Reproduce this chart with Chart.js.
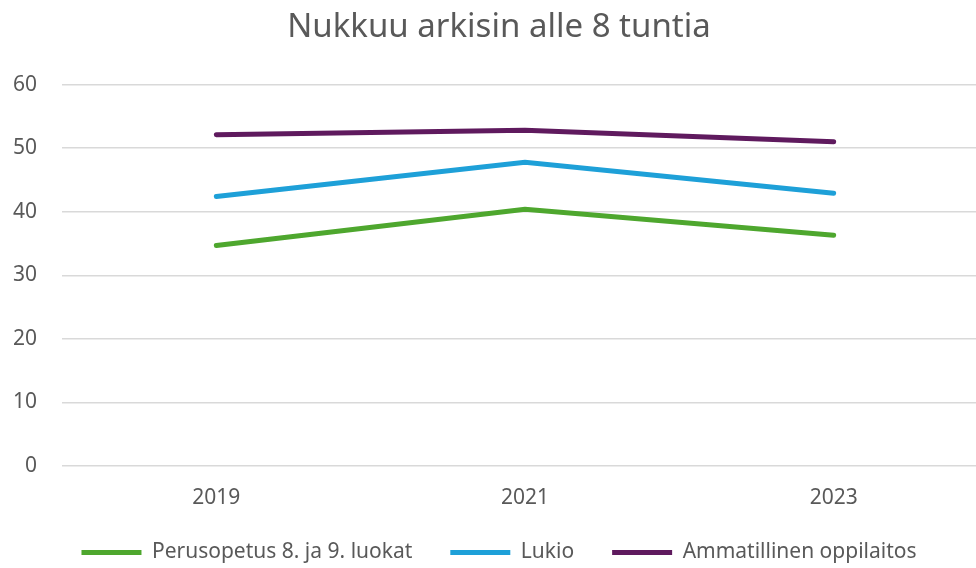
<!DOCTYPE html>
<html>
<head>
<meta charset="utf-8">
<script src="https://cdn.jsdelivr.net/npm/chart.js@4"></script>
<style>
  html, body { margin: 0; padding: 0; background: #fff; overflow: hidden; }
  #wrap { width: 1012px; height: 568px; }
</style>
</head>
<body>
<div id="wrap"><canvas id="chart" width="1012" height="568"></canvas></div>
<script>
const years = ["2019", "2021", "2023"];
const perusopetus = [34.7, 40.4, 36.3];
const lukio = [42.4, 47.8, 42.9];
const ammatillinen = [52.1, 52.8, 51.0];
const yTicks = [0, 10, 20, 30, 40, 50, 60];

const font = "'Noto Sans', 'Open Sans', sans-serif";
const textColor = "#595959";

new Chart(document.getElementById("chart"), {
  type: "line",
  data: {
    labels: years,
    datasets: [
      { label: "Perusopetus 8. ja 9. luokat", data: perusopetus, borderColor: "#4ea72e", backgroundColor: "#4ea72e" },
      { label: "Lukio", data: lukio, borderColor: "#1ea0d8", backgroundColor: "#1ea0d8" },
      { label: "Ammatillinen oppilaitos", data: ammatillinen, borderColor: "#5f1a5e", backgroundColor: "#5f1a5e" }
    ]
  },
  options: {
    responsive: false,
    animation: false,
    layout: { padding: { left: 10, right: 24, top: 0, bottom: -5 } },
    elements: {
      line: { borderWidth: 5, tension: 0, borderCapStyle: "round" },
      point: { radius: 0, hoverRadius: 0, borderWidth: 5 }
    },
    plugins: {
      title: {
        display: true,
        text: "Nukkuu arkisin alle 8 tuntia",
        color: textColor,
        font: { family: font, size: 33, weight: "normal" },
        padding: { top: 8, bottom: 37 }
      },
      legend: {
        position: "bottom",
        labels: {
          color: textColor,
          font: { family: font, size: 21 },
          usePointStyle: true,
          pointStyle: "line",
          pointStyleWidth: 60,
          padding: 38
        }
      },
      tooltip: { enabled: false }
    },
    scales: {
      x: {
        offset: true,
        grid: { display: false, drawTicks: false },
        border: { display: false },
        ticks: { color: textColor, font: { family: font, size: 21 }, padding: 19 },
        afterFit: s => { s.height = 38; }
      },
      y: {
        min: 0,
        max: 60,
        afterBuildTicks: s => { s.ticks = yTicks.map(v => ({ value: v })); },
        grid: { color: "#d9d9d9", lineWidth: 1.5, drawTicks: false },
        border: { display: false },
        ticks: { color: textColor, font: { family: font, size: 21 }, padding: 25 },
        afterFit: s => { s.width = 52; }
      }
    }
  }
});
</script>
</body>
</html>
